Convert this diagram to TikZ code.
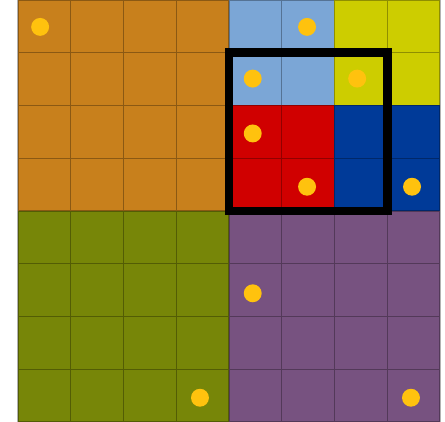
\documentclass[tikz,border=0pt]{standalone}
\usepackage{xcolor}
\usepackage{tikz}
\definecolor{ochre}{HTML}{C8801C}
\definecolor{skyblue}{HTML}{7BA6D6}
\definecolor{lime}{HTML}{CDCD00}
\definecolor{brightred}{HTML}{D00000}
\definecolor{deepblue}{HTML}{003A98}
\definecolor{olive}{HTML}{778608}
\definecolor{plum}{HTML}{775280}
\definecolor{dotgold}{HTML}{FFC20E}
\tikzset{
  cellgrid/.style = {draw=black, draw opacity=0.3, line width=0.6pt},
  sample/.style   = {fill=dotgold},
  window/.style   = {draw=black, line width=4.8pt},
}

\begin{document}
\begin{tikzpicture}
  \useasboundingbox (-0.341,0) rectangle (8.095,8.0);

  % quadrants
  \fill[ochre] (0,4) rectangle (4,8);
  \fill[olive] (0,0) rectangle (4,4);
  \fill[plum]  (4,0) rectangle (8,4);

  % top-right quadrant split
  \fill[skyblue]   (4,6) rectangle (6,8);
  \fill[lime]      (6,6) rectangle (8,8);
  \fill[brightred] (4,4) rectangle (6,6);
  \fill[deepblue]  (6,4) rectangle (8,6);

  % cell lines
  \draw[cellgrid] (0,0) grid (8,8);

  % samples
  \foreach \x/\y in {0.42/7.49, 5.48/7.49, 4.45/6.51, 6.43/6.51, 4.45/5.47,
                     5.48/4.46, 7.47/4.46, 4.45/2.44, 3.45/0.46, 7.45/0.46}
    \fill[sample] (\x,\y) circle (0.17);

  % window
  \draw[window] (4,4) rectangle (7,7);

\end{tikzpicture}
\end{document}
